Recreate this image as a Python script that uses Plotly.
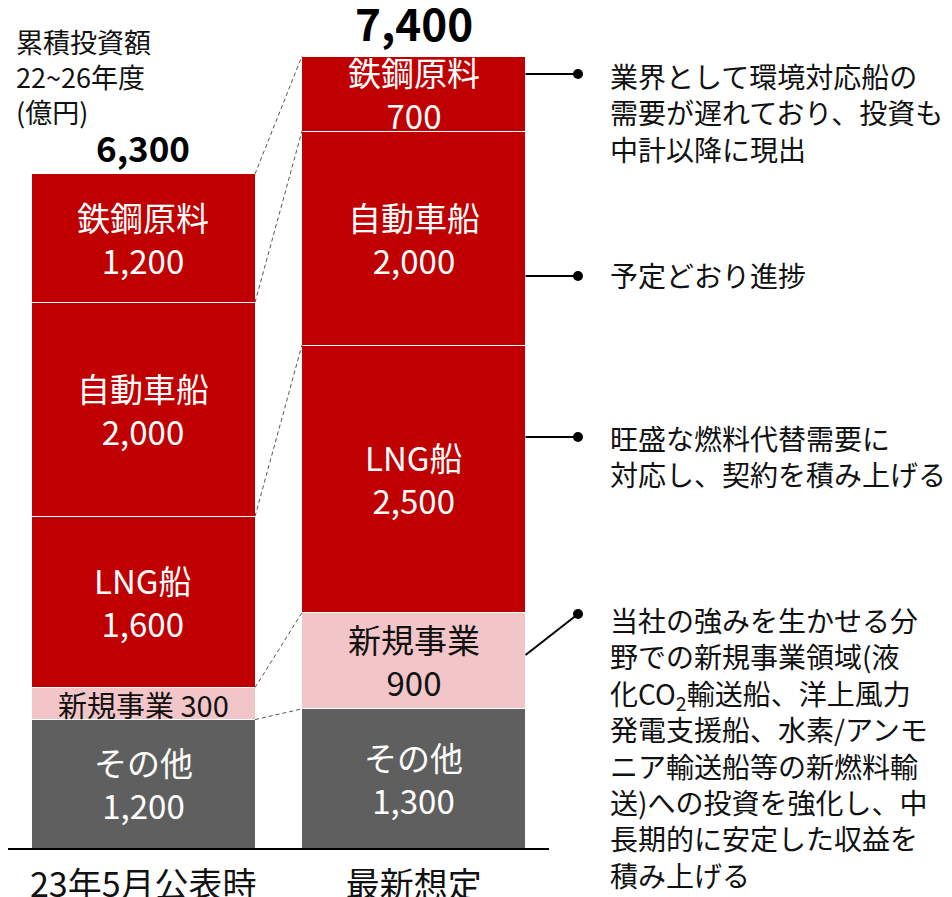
import plotly.graph_objects as go

# ---- data ----
categories = ["23年5月公表時", "最新想定"]
segments = ["その他", "新規事業", "LNG船", "自動車船", "鉄鋼原料"]
values_prev = [1200, 300, 1600, 2000, 1200]
values_new = [1300, 900, 2500, 2000, 700]
totals = [6300, 7400]
title_text = "累積投資額<br>22~26年度<br>(億円)"
notes = [
    "業界として環境対応船の<br>需要が遅れており、投資も<br>中計以降に現出",
    "予定どおり進捗",
    "旺盛な燃料代替需要に<br>対応し、契約を積み上げる",
    "当社の強みを生かせる分<br>野での新規事業領域(液<br>化CO<sub>2</sub>輸送船、洋上風力<br>発電支援船、水素/アンモ<br>ニア輸送船等の新燃料輸<br>送)への投資を強化し、中<br>長期的に安定した収益を<br>積み上げる",
]

# ---- style / layout geometry ----
FONT = "Noto Sans CJK JP"
seg_colors = ["#5F5F5F", "#F2C6C8", "#C00000", "#C00000", "#C00000"]
seg_text_colors = ["white", "#111111", "white", "white", "white"]
OFF = 8                      # page body margin of the browser
W, H = 952 - OFF, 897 - OFF
ML, MT = 0, 0
BASE_Y = 848 - OFF           # baseline in figure pixels
RIGHT_X = 549 - OFF
MR = W - RIGHT_X
MB = H - BASE_Y
PW, PH = W - ML - MR, H - MT - MB
SCALE = 0.107                # px per unit
YMAX = PH / SCALE
BAR_W = 0.8266
X0, X1 = -0.5, 1.5

def sy(py):   # screen y -> paper y
    return (PH - (py - OFF - MT)) / PH

def sx(px):   # screen x -> paper x
    return (px - OFF - ML) / PW

fig = go.Figure()
for i, name in enumerate(segments):
    fig.add_trace(go.Bar(
        x=[0, 1], y=[values_prev[i], values_new[i]], name=name,
        width=BAR_W, marker=dict(color=seg_colors[i], line=dict(color="white", width=1)),
        hoverinfo="skip",
    ))

annotations = []
shapes = []
for b, vals in enumerate([values_prev, values_new]):
    cum = 0
    for i, v in enumerate(vals):
        mid = cum + v / 2
        px_h = v * SCALE
        if px_h < 60:
            txt, size = f"{segments[i]} {v:,}", 29
        else:
            txt, size = f"{segments[i]}<br>{v:,}", 33
        annotations.append(dict(x=b, y=mid, xref="x", yref="y", text=txt, showarrow=False,
                                font=dict(family=FONT, size=size, color=seg_text_colors[i])))
        cum += v

# totals
annotations.append(dict(x=0, y=totals[0], xref="x", yref="y", text=f"<b>{totals[0]:,}</b>", showarrow=False,
                        yanchor="bottom", yshift=0, font=dict(family=FONT, size=35, color="black")))
annotations.append(dict(x=1, y=totals[1], xref="x", yref="y", text=f"<b>{totals[1]:,}</b>", showarrow=False,
                        yanchor="bottom", yshift=0, font=dict(family=FONT, size=44, color="black")))

# title
annotations.append(dict(x=sx(14), y=sy(20), xref="paper", yref="paper", text=title_text,
                        showarrow=False, xanchor="left", yanchor="top", align="left",
                        font=dict(family=FONT, size=27, color="#111111")))

# dashed connectors between bars
cum_prev = [sum(values_prev[:k + 1]) for k in range(len(values_prev))]
cum_new = [sum(values_new[:k + 1]) for k in range(len(values_new))]
for a, bb in zip(cum_prev, cum_new):
    shapes.append(dict(type="line", xref="x", yref="y", x0=BAR_W / 2, y0=a, x1=1 - BAR_W / 2, y1=bb,
                       line=dict(color="#555555", width=1, dash="4px,3px")))

bar_edge = (1 + BAR_W / 2 - X0) / (X1 - X0)
# leader lines: (start y, end y, note centre y) in screen pixels
leaders = [(74, 74, 112), (276, 276, 275), (437, 437, 456), (655, 614, 747)]
DOT_X = 578
for (ys, ye, yc), note in zip(leaders, notes):
    shapes.append(dict(type="line", xref="paper", yref="paper", x0=bar_edge, y0=sy(ys),
                       x1=sx(DOT_X), y1=sy(ye), line=dict(color="black", width=2)))
    r = 5
    shapes.append(dict(type="circle", xref="paper", yref="paper",
                       x0=sx(DOT_X - r), x1=sx(DOT_X + r), y0=sy(ye + r), y1=sy(ye - r),
                       fillcolor="black", line=dict(color="black", width=0)))
    annotations.append(dict(x=sx(608), y=sy(yc), xref="paper", yref="paper", text=note,
                            showarrow=False, xanchor="left", yanchor="middle", align="left",
                            font=dict(family=FONT, size=28, color="#111111")))

fig.update_layout(
    width=W, height=H, barmode="stack", showlegend=False,
    margin=dict(l=ML, r=MR, t=MT, b=MB, pad=0, autoexpand=False),
    plot_bgcolor="white", paper_bgcolor="white",
    xaxis=dict(range=[X0, X1], tickmode="array", tickvals=[0, 1], ticktext=categories,
               showline=True, linecolor="black", linewidth=2, showgrid=False, zeroline=False,
               ticks="", ticklabelstandoff=6, automargin=False,
               tickfont=dict(family=FONT, size=34, color="#111111")),
    yaxis=dict(range=[0, YMAX], visible=False, showgrid=False, zeroline=False),
    annotations=annotations, shapes=shapes,
    font=dict(family=FONT),
)
fig.write_html("out.html")
